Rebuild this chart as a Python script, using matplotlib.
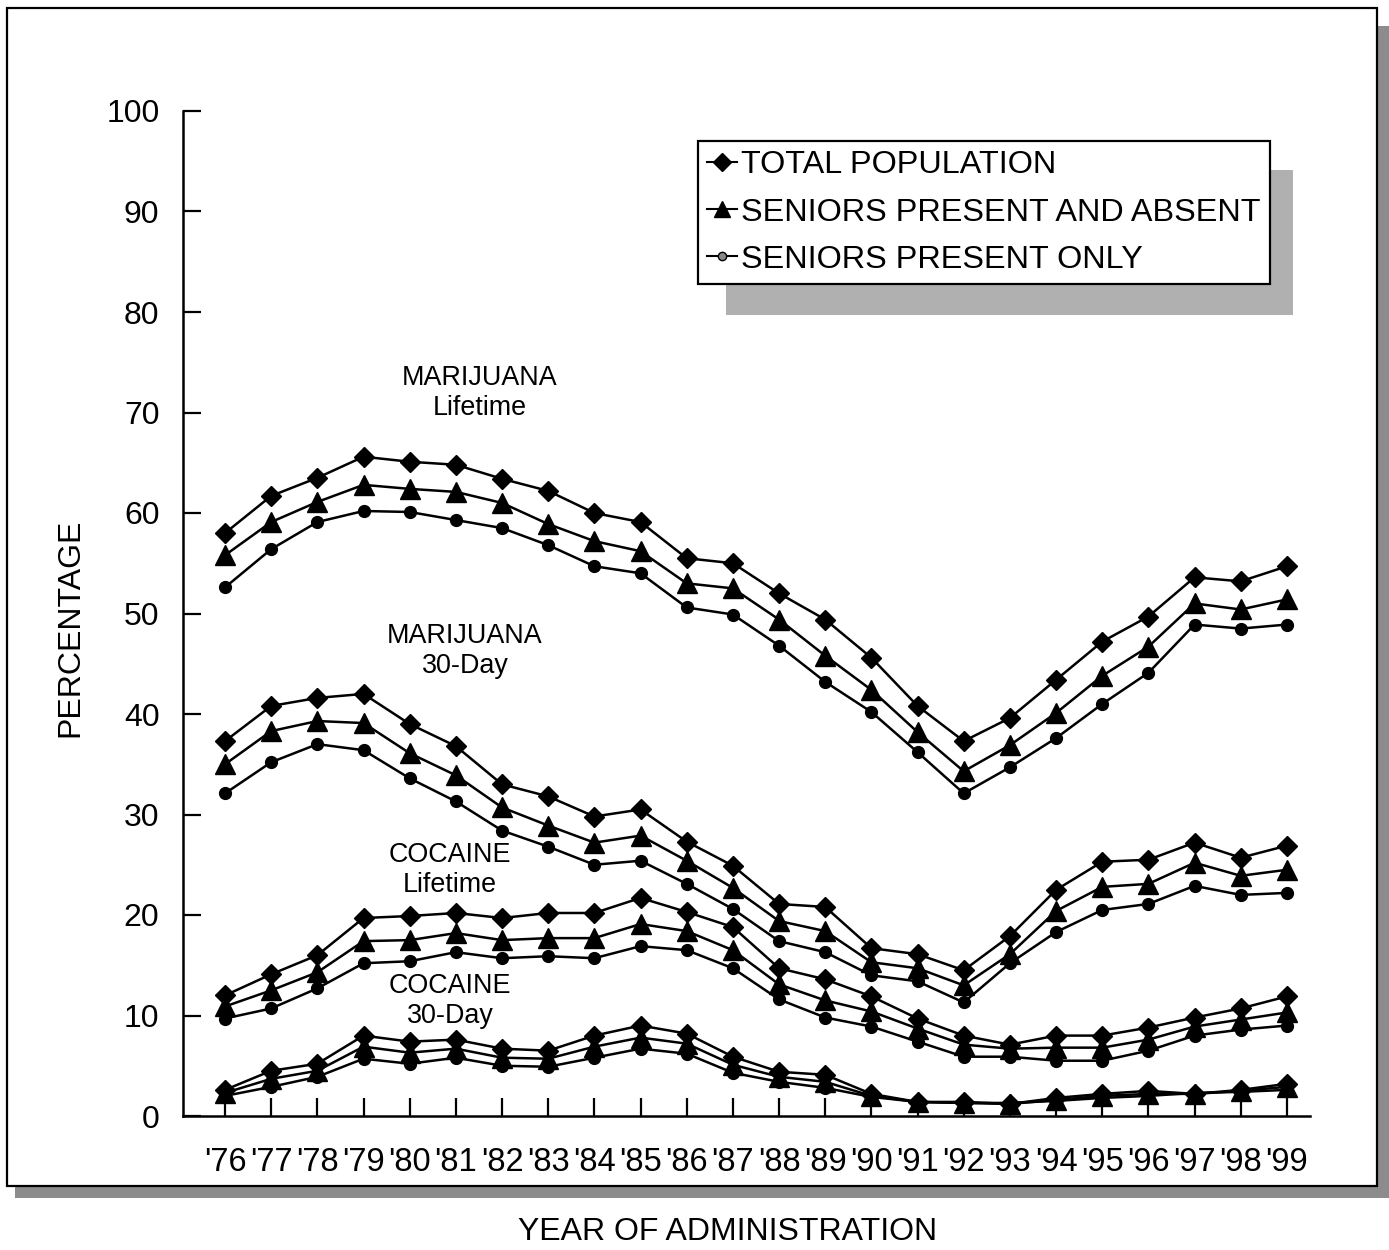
import matplotlib
matplotlib.use("Agg")
import matplotlib.pyplot as plt
from matplotlib.lines import Line2D
from matplotlib.patches import Rectangle

plt.rcParams['font.family'] = ['Liberation Sans', 'DejaVu Sans']

years = ["'76", "'77", "'78", "'79", "'80", "'81", "'82", "'83", "'84", "'85", "'86", "'87",
         "'88", "'89", "'90", "'91", "'92", "'93", "'94", "'95", "'96", "'97", "'98", "'99"]

# Marijuana, lifetime prevalence
mj_life_total = [58.0, 61.7, 63.5, 65.6, 65.1, 64.8, 63.4, 62.2, 60.0, 59.1, 55.5, 55.0,
                 52.0, 49.4, 45.6, 40.8, 37.3, 39.6, 43.4, 47.2, 49.7, 53.6, 53.2, 54.7]
mj_life_pa = [55.8, 59.1, 61.1, 62.8, 62.4, 62.1, 61.0, 58.9, 57.2, 56.2, 53.0, 52.5,
              49.4, 45.8, 42.4, 38.2, 34.3, 36.9, 40.1, 43.8, 46.7, 51.0, 50.4, 51.4]
mj_life_po = [52.6, 56.4, 59.1, 60.2, 60.1, 59.3, 58.5, 56.8, 54.7, 54.0, 50.6, 49.9,
              46.8, 43.2, 40.2, 36.2, 32.1, 34.7, 37.6, 41.0, 44.1, 48.9, 48.5, 48.9]

# Marijuana, 30-day prevalence
mj_30_total = [37.3, 40.8, 41.6, 42.0, 39.0, 36.8, 33.0, 31.8, 29.8, 30.5, 27.3, 24.9,
               21.1, 20.8, 16.7, 16.1, 14.5, 17.9, 22.5, 25.3, 25.5, 27.2, 25.7, 26.9]
mj_30_pa = [35.0, 38.3, 39.3, 39.1, 36.1, 33.9, 30.7, 28.9, 27.2, 27.9, 25.4, 22.7,
            19.4, 18.4, 15.3, 14.7, 13.0, 16.1, 20.4, 22.8, 23.1, 25.2, 23.9, 24.5]
mj_30_po = [32.1, 35.2, 37.0, 36.4, 33.6, 31.3, 28.4, 26.8, 25.0, 25.4, 23.1, 20.6,
            17.4, 16.3, 14.0, 13.4, 11.3, 15.2, 18.3, 20.5, 21.1, 22.9, 22.0, 22.2]

# Cocaine, lifetime prevalence
coc_life_total = [12.0, 14.1, 16.0, 19.7, 19.9, 20.2, 19.7, 20.2, 20.2, 21.7, 20.3, 18.8,
                  14.7, 13.6, 11.9, 9.7, 8.0, 7.1, 8.0, 8.0, 8.8, 9.8, 10.7, 11.9]
coc_life_pa = [10.9, 12.5, 14.3, 17.4, 17.5, 18.2, 17.5, 17.7, 17.7, 19.1, 18.4, 16.5,
               13.1, 11.5, 10.4, 8.7, 7.1, 6.7, 6.8, 6.8, 7.6, 8.9, 9.6, 10.3]
coc_life_po = [9.7, 10.7, 12.7, 15.2, 15.4, 16.3, 15.7, 15.9, 15.7, 16.9, 16.5, 14.7,
               11.6, 9.8, 8.9, 7.4, 5.9, 5.9, 5.5, 5.5, 6.5, 8.0, 8.6, 9.0]

# Cocaine, 30-day prevalence
coc_30_total = [2.6, 4.5, 5.2, 8.0, 7.4, 7.6, 6.7, 6.5, 8.0, 9.0, 8.2, 5.9,
                4.4, 4.1, 2.2, 1.4, 1.4, 1.2, 1.8, 2.2, 2.5, 2.2, 2.6, 3.2]
coc_30_pa = [2.3, 3.7, 4.5, 6.9, 6.3, 6.7, 5.8, 5.7, 6.9, 7.8, 7.2, 5.1,
             3.9, 3.4, 2.0, 1.4, 1.3, 1.2, 1.6, 2.0, 2.2, 2.2, 2.5, 2.9]
coc_30_po = [2.0, 2.9, 3.9, 5.7, 5.2, 5.8, 5.0, 4.9, 5.8, 6.7, 6.2, 4.3,
             3.4, 2.8, 1.9, 1.4, 1.3, 1.3, 1.5, 1.8, 2.0, 2.3, 2.4, 2.6]

series_labels = ["TOTAL POPULATION", "SENIORS PRESENT AND ABSENT", "SENIORS PRESENT ONLY"]
group_labels = ["MARIJUANA\nLifetime", "MARIJUANA\n30-Day", "COCAINE\nLifetime", "COCAINE\n30-Day"]
groups = [
    (mj_life_total, mj_life_pa, mj_life_po),
    (mj_30_total, mj_30_pa, mj_30_po),
    (coc_life_total, coc_life_pa, coc_life_po),
    (coc_30_total, coc_30_pa, coc_30_po),
]

W, H = 1389, 1250
fig = plt.figure(figsize=(W / 100, H / 100), dpi=100)


def fig_rect(x0, y0, x1, y1, **kw):
    """Rectangle given in pixel coordinates measured from the top-left corner."""
    r = Rectangle((x0 / W, 1 - y1 / H), (x1 - x0) / W, (y1 - y0) / H,
                  transform=fig.transFigure, **kw)
    fig.add_artist(r)
    return r


# outer frame with halftone shadow
fig_rect(15, 1186, 1389, 1198, facecolor='#8c8c8c', edgecolor='none', zorder=-3)
fig_rect(1377, 26, 1389, 1198, facecolor='#8c8c8c', edgecolor='none', zorder=-3)
fig_rect(7, 8, 1377, 1186, facecolor='white', edgecolor='black', linewidth=1.6, zorder=-2)

ax = fig.add_axes([183 / W, 1 - 1116 / H, (1310 - 183) / W, (1116 - 111) / H])
ax.set_facecolor('none')
x = list(range(len(years)))

styles = [
    dict(marker='D', markersize=10.5),
    dict(marker='^', markersize=14),
    dict(marker='o', markersize=8.5),
]

for grp in groups:
    for vals, st in zip(grp, styles):
        ax.plot(x, vals, color='black', linewidth=1.8, markerfacecolor='black',
                markeredgecolor='black', clip_on=False, zorder=3, **st)

ax.set_xlim(-0.91, 23.5)
ax.set_ylim(0, 100)
ax.set_xticks(x)
ax.set_xticklabels(years)
ax.set_yticks(range(0, 101, 10))
for s in ('top', 'right'):
    ax.spines[s].set_visible(False)
for s in ('left', 'bottom'):
    ax.spines[s].set_linewidth(1.8)
ax.tick_params(axis='both', direction='in', length=13, width=1.6, labelsize=23,
               colors='black')
ax.tick_params(axis='y', pad=17)
ax.tick_params(axis='x', pad=22, labelsize=23.5)

fig.text(70 / W, 1 - 628 / H, "PERCENTAGE", fontsize=23, rotation=90,
         ha='center', va='center')
fig.text(728 / W, 1 - 1232 / H, "YEAR OF ADMINISTRATION", fontsize=23,
         ha='center', va='center')

# group annotations
label_pos = [(480, 393), (465, 651), (450, 870), (450, 1001)]
for (px, py), txt in zip(label_pos, group_labels):
    fig.text(px / W, 1 - py / H, txt, fontsize=19.4, ha='center', va='center',
             linespacing=1.2)

# legend with halftone shadow
fig_rect(726, 170, 1293, 315, facecolor='#b0b0b0', edgecolor='none', zorder=1)
handles = [
    Line2D([], [], color='black', linewidth=1.5, marker='D', markersize=9),
    Line2D([], [], color='black', linewidth=1.5, marker='^', markersize=12),
    Line2D([], [], color='black', linewidth=1.5, marker='o', markersize=6,
           markerfacecolor='#888888'),
]
leg = fig.legend(handles, series_labels, loc='upper left',
                 bbox_to_anchor=(698 / W, 1 - 141 / H), fontsize=23.3,
                 handlelength=0.9, handletextpad=0.15, labelspacing=0.53,
                 borderpad=0.29, borderaxespad=0, fancybox=False, framealpha=1,
                 edgecolor='black', facecolor='white')
leg.get_frame().set_linewidth(1.6)
leg.set_zorder(5)

fig.savefig("out.png", dpi=100)
